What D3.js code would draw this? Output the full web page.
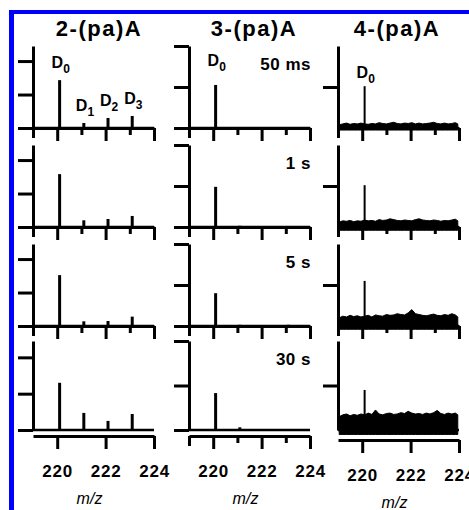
<!DOCTYPE html>
<html>
<head>
<meta charset="utf-8">
<title>(pa)A spectra</title>
<script src="https://cdn.jsdelivr.net/npm/d3@7"></script>
<style>
  body { margin: 0; background: #fff; }
  svg text { font-family: "Liberation Sans", Arial, sans-serif; }
</style>
</head>
<body>
<div id="chart"></div>
<script>
// column titles and trapping delays
var compounds = ["2-(pa)A", "3-(pa)A", "4-(pa)A"];
var delays = ["50 ms", "1 s", "5 s", "30 s"];

// m/z of the D0..D3 peaks
var peakMz = [220.1, 221.1, 222.1, 223.1];
var peakNames = ["0", "1", "2", "3"];

// peak heights (in y tick steps), one row per delay
var peaks2 = [[1.43, 0.15, 0.30, 0.36],
              [1.58, 0.20, 0.24, 0.33],
              [1.52, 0.14, 0.15, 0.28],
              [1.30, 0.47, 0.25, 0.44]];
var peaks3 = [[1.05, 0, 0, 0],
              [0.98, 0.03, 0, 0],
              [0.80, 0.03, 0, 0.03],
              [0.83, 0.06, 0.02, 0.02]];
var peaks4 = [[1.02, 0, 0, 0],
              [1.02, 0, 0, 0],
              [1.10, 0, 0, 0],
              [0.90, 0, 0, 0]];

// noise envelope of the 4-(pa)A traces
var noiseMz = [219.05, 219.2, 219.35, 219.5, 219.65, 219.8, 219.95, 220.1, 220.25, 220.4,
               220.55, 220.7, 220.85, 221.0, 221.15, 221.3, 221.45, 221.6, 221.75, 221.9,
               222.05, 222.2, 222.35, 222.5, 222.65, 222.8, 222.95, 223.1, 223.25, 223.4,
               223.55, 223.7, 223.85, 223.95];
var noise4 = [
  [0.08,0.10,0.12,0.09,0.11,0.10,0.12,0.10,0.09,0.11,0.10,0.13,0.11,0.10,0.12,0.14,0.11,
   0.10,0.12,0.11,0.13,0.10,0.12,0.10,0.11,0.12,0.14,0.11,0.10,0.12,0.10,0.11,0.13,0.10],
  [0.12,0.15,0.14,0.16,0.13,0.15,0.14,0.17,0.15,0.16,0.14,0.18,0.16,0.17,0.20,0.18,0.16,
   0.15,0.17,0.16,0.15,0.18,0.20,0.17,0.16,0.15,0.17,0.16,0.14,0.16,0.15,0.17,0.19,0.15],
  [0.20,0.24,0.22,0.26,0.23,0.25,0.22,0.24,0.26,0.22,0.27,0.25,0.24,0.28,0.26,0.27,0.30,
   0.28,0.27,0.32,0.40,0.30,0.28,0.26,0.25,0.27,0.29,0.26,0.25,0.28,0.26,0.30,0.27,0.22],
  [0.30,0.34,0.36,0.32,0.35,0.33,0.36,0.34,0.38,0.35,0.45,0.36,0.34,0.37,0.38,0.35,0.36,
   0.39,0.37,0.42,0.38,0.36,0.37,0.35,0.38,0.36,0.39,0.44,0.37,0.35,0.38,0.36,0.38,0.34]];
var noiseDepth = [0.05, 0.08, 0.08, 0.10];

var xDomain = [219, 224];
var majorTicks = [220, 222, 224];
var minorTicks = [221, 223];
var yTicks = [[0, 1, 2], [0, 1, 2], [1]];
var yMax = [2.45, 2, 2];

var allPeaks = [peaks2, peaks3, peaks4];

// layout
var W = 469, H = 510;
var colX = [33, 189, 338], plotW = 121;
var rowBase = [128, 227, 326, 430], rowH = [82, 82, 82, 89];
var bottomOffset = [6, 6, 10];
var titleX = [99, 254, 397];
var labelGap = [12, 19, 8];

var svg = d3.select("#chart").append("svg")
    .attr("width", W)
    .attr("height", H);

// blue frame
svg.append("rect").attr("x", 9).attr("y", 10).attr("width", 5).attr("height", H - 10).attr("fill", "#0000ff");
svg.append("rect").attr("x", 9).attr("y", 10).attr("width", W - 9).attr("height", 4).attr("fill", "#0000ff");

function styleAxis(sel) {
  sel.selectAll("path.domain").attr("stroke", "#000").attr("stroke-width", 3);
  sel.selectAll(".tick line").attr("stroke", "#000").attr("stroke-width", 3);
}

compounds.forEach(function(name, c) {
  svg.append("text")
    .attr("x", titleX[c]).attr("y", 36)
    .attr("text-anchor", "middle")
    .attr("font-size", 22).attr("font-weight", "bold")
    .attr("letter-spacing", 1.5)
    .text(name);

  delays.forEach(function(dl, r) {
    var h = rowH[r];
    var g = svg.append("g")
      .attr("transform", "translate(" + colX[c] + "," + (rowBase[r] - h) + ")");

    var x = d3.scaleLinear().domain(xDomain).range([0, plotW]);
    var y = d3.scaleLinear().domain([0, yMax[c]]).range([h, 0]);
    var last = r == delays.length - 1;
    var off = last ? bottomOffset[c] : 0;

    // spectrum baseline
    g.append("line")
      .attr("x1", x(219)).attr("x2", x(224))
      .attr("y1", y(0)).attr("y2", y(0))
      .attr("stroke", "#000").attr("stroke-width", 2.5);

    // noise band
    if (c == 2) {
      var area = d3.area()
        .x(function(d, i) { return x(noiseMz[i]); })
        .y0(y(-noiseDepth[r]))
        .y1(function(d) { return y(d); });
      g.append("path")
        .datum(noise4[r])
        .attr("d", area)
        .attr("fill", "#000")
        .attr("stroke", "#000").attr("stroke-width", 1);
    }

    // peaks
    var pk = [];
    allPeaks[c][r].forEach(function(v, k) { if (v > 0) pk.push({mz: peakMz[k], v: v}); });
    g.selectAll(".peak")
      .data(pk)
      .enter().append("line")
      .attr("class", "peak")
      .attr("x1", function(d) { return x(d.mz); })
      .attr("x2", function(d) { return x(d.mz); })
      .attr("y1", y(0))
      .attr("y2", function(d) { return y(d.v); })
      .attr("stroke", "#000")
      .attr("stroke-width", c == 2 ? 2 : 3);

    // y axis
    var ya = g.append("g")
      .call(d3.axisLeft(y).tickValues(yTicks[c]).tickSize(15).tickSizeOuter(0).tickFormat(""));
    styleAxis(ya);

    // x axis
    var xg = g.append("g").attr("transform", "translate(0," + (h + off) + ")");
    var major = d3.axisBottom(x).tickValues(majorTicks).tickSize(13).tickSizeOuter(0)
      .tickPadding(16).tickFormat(last ? d3.format("d") : "");
    xg.call(major);
    styleAxis(xg);
    xg.selectAll("text")
      .attr("font-size", 17).attr("font-weight", "bold")
      .attr("letter-spacing", 0.8)
      .attr("font-family", "Liberation Sans, Arial, sans-serif")
      .attr("fill", "#000");
    if (!last || c == 1) {
      var mg = g.append("g").attr("transform", "translate(0," + (h + off) + ")")
        .call(d3.axisBottom(x).tickValues(minorTicks).tickSize(7).tickFormat(""));
      mg.select(".domain").remove();
      styleAxis(mg);
      var sg = g.append("g").attr("transform", "translate(0," + (h + off) + ")")
        .call(d3.axisBottom(x).tickValues([219]).tickSize(10).tickFormat(""));
      sg.select(".domain").remove();
      styleAxis(sg);
    }

    if (last) {
      g.append("text")
        .attr("x", plotW / 2 - 4).attr("y", h + off + 68)
        .attr("text-anchor", "middle")
        .attr("font-size", 16).attr("font-style", "italic")
        .text("m/z");
    }

    // delay label
    if (c == 1) {
      g.append("text")
        .attr("x", plotW + 1).attr("y", 24)
        .attr("text-anchor", "end")
        .attr("font-size", 17).attr("font-weight", "bold")
        .attr("letter-spacing", 0.5)
        .text(dl);
    }

    // peak names on the first row
    if (r == 0) {
      var names = c == 0 ? [0, 1, 2, 3] : [0];
      names.forEach(function(k) {
        var t = g.append("text")
          .attr("x", x(peakMz[k]) - 8)
          .attr("y", y(allPeaks[c][r][k]) - labelGap[c])
          .attr("font-size", 16).attr("font-weight", "bold")
          .text("D");
        t.append("tspan")
          .attr("font-size", 12).attr("dy", 5)
          .text(peakNames[k]);
      });
    }
  });
});
</script>
</body>
</html>
